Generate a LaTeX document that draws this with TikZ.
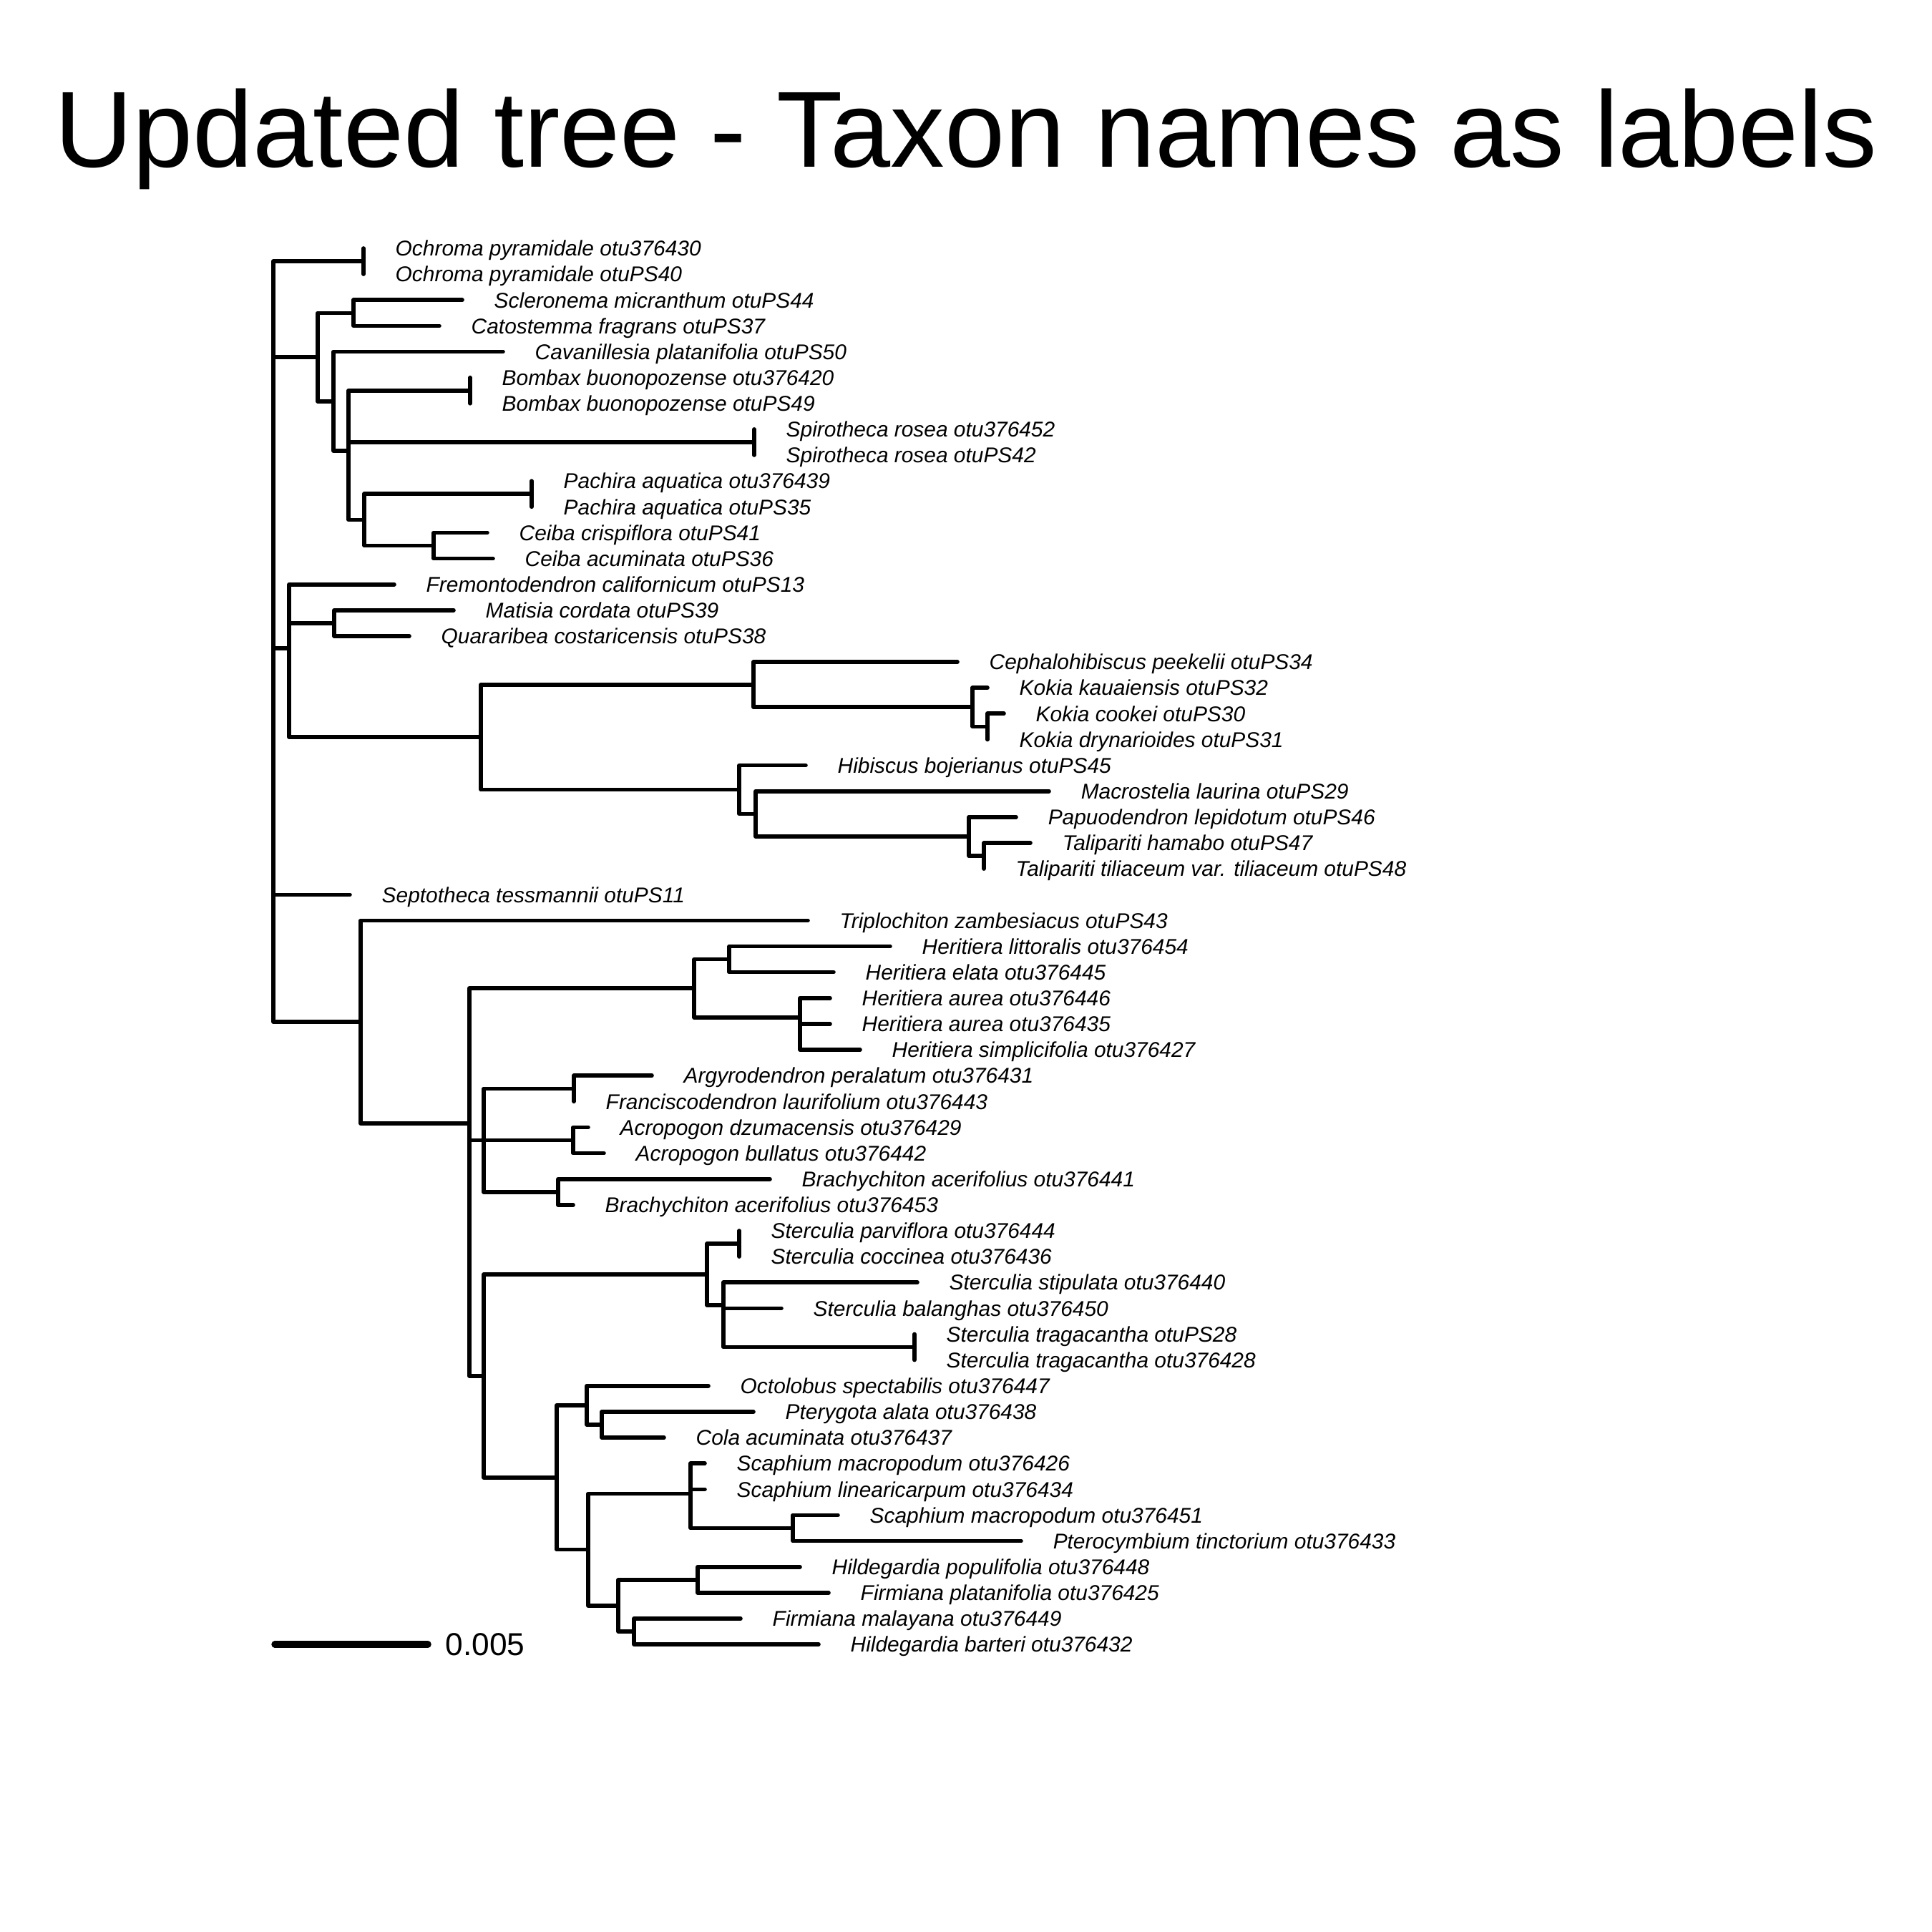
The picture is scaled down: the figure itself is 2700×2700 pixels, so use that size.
\documentclass[tikz,border=0pt]{standalone}
\usepackage{fontspec}
\setmainfont{Liberation Sans}
\usetikzlibrary{positioning}

\begin{document}
\begin{tikzpicture}[
    x=0.01cm, y=-0.01cm,
    branchline/.style={line width=1.6pt, line cap=round, line join=round},
    scalebar/.style={line width=2.7pt, line cap=round},
    taxon/.style={anchor=base west, inner sep=0pt, xshift=4.4mm, yshift=-1.07mm, font=\fontsize{8.5}{10}\selectfont\itshape},
    scalelabel/.style={inner sep=0pt, font=\fontsize{12.6}{14}\selectfont},
    heading/.style={anchor=base, inner sep=0pt, font=\fontsize{43}{50}\selectfont}
]
\useasboundingbox (0,0) rectangle (2700,2700);

% Title
\node[heading] (title) at (1350,234) {Updated tree - Taxon names as labels};

% Tips
\coordinate (t01) at (508,347.0);   \node[taxon] (l01) at (t01) {Ochroma pyramidale otu376430};
\coordinate (t02) at (508,383.1);   \node[taxon] (l02) at (t02) {Ochroma pyramidale otuPS40};
\coordinate (t03) at (646,419.3);   \node[taxon] (l03) at (t03) {Scleronema micranthum otuPS44};
\coordinate (t04) at (614,455.4);   \node[taxon] (l04) at (t04) {Catostemma fragrans otuPS37};
\coordinate (t05) at (703,491.5);   \node[taxon] (l05) at (t05) {Cavanillesia platanifolia otuPS50};
\coordinate (t06) at (657,527.7);   \node[taxon] (l06) at (t06) {Bombax buonopozense otu376420};
\coordinate (t07) at (657,563.8);   \node[taxon] (l07) at (t07) {Bombax buonopozense otuPS49};
\coordinate (t08) at (1054,599.9);  \node[taxon] (l08) at (t08) {Spirotheca rosea otu376452};
\coordinate (t09) at (1054,636.0);  \node[taxon] (l09) at (t09) {Spirotheca rosea otuPS42};
\coordinate (t10) at (743,672.2);   \node[taxon] (l10) at (t10) {Pachira aquatica otu376439};
\coordinate (t11) at (743,708.3);   \node[taxon] (l11) at (t11) {Pachira aquatica otuPS35};
\coordinate (t12) at (681,744.4);   \node[taxon] (l12) at (t12) {Ceiba crispiflora otuPS41};
\coordinate (t13) at (689,780.6);   \node[taxon] (l13) at (t13) {Ceiba acuminata otuPS36};
\coordinate (t14) at (551,816.7);   \node[taxon] (l14) at (t14) {Fremontodendron californicum otuPS13};
\coordinate (t15) at (634,852.8);   \node[taxon] (l15) at (t15) {Matisia cordata otuPS39};
\coordinate (t16) at (572,888.9);   \node[taxon] (l16) at (t16) {Quararibea costaricensis otuPS38};
\coordinate (t17) at (1338,925.1);  \node[taxon] (l17) at (t17) {Cephalohibiscus peekelii otuPS34};
\coordinate (t18) at (1380,961.2);  \node[taxon] (l18) at (t18) {Kokia kauaiensis otuPS32};
\coordinate (t19) at (1403,997.3);  \node[taxon] (l19) at (t19) {Kokia cookei otuPS30};
\coordinate (t20) at (1380,1033.5); \node[taxon] (l20) at (t20) {Kokia drynarioides otuPS31};
\coordinate (t21) at (1126,1069.6); \node[taxon] (l21) at (t21) {Hibiscus bojerianus otuPS45};
\coordinate (t22) at (1466,1105.7); \node[taxon] (l22) at (t22) {Macrostelia laurina otuPS29};
\coordinate (t23) at (1420,1141.9); \node[taxon] (l23) at (t23) {Papuodendron lepidotum otuPS46};
\coordinate (t24) at (1440,1178.0); \node[taxon] (l24) at (t24) {Talipariti hamabo otuPS47};
\coordinate (t25) at (1375,1214.1); \node[taxon] (l25) at (t25) {Talipariti tiliaceum var. tiliaceum otuPS48};
\coordinate (t26) at (489,1250.3);  \node[taxon] (l26) at (t26) {Septotheca tessmannii otuPS11};
\coordinate (t27) at (1129,1286.4); \node[taxon] (l27) at (t27) {Triplochiton zambesiacus otuPS43};
\coordinate (t28) at (1244,1322.5); \node[taxon] (l28) at (t28) {Heritiera littoralis otu376454};
\coordinate (t29) at (1165,1358.6); \node[taxon] (l29) at (t29) {Heritiera elata otu376445};
\coordinate (t30) at (1160,1394.8); \node[taxon] (l30) at (t30) {Heritiera aurea otu376446};
\coordinate (t31) at (1160,1430.9); \node[taxon] (l31) at (t31) {Heritiera aurea otu376435};
\coordinate (t32) at (1202,1467.0); \node[taxon] (l32) at (t32) {Heritiera simplicifolia otu376427};
\coordinate (t33) at (911,1503.2);  \node[taxon] (l33) at (t33) {Argyrodendron peralatum otu376431};
\coordinate (t34) at (802,1539.3);  \node[taxon] (l34) at (t34) {Franciscodendron laurifolium otu376443};
\coordinate (t35) at (822,1575.4);  \node[taxon] (l35) at (t35) {Acropogon dzumacensis otu376429};
\coordinate (t36) at (844,1611.6);  \node[taxon] (l36) at (t36) {Acropogon bullatus otu376442};
\coordinate (t37) at (1076,1647.7); \node[taxon] (l37) at (t37) {Brachychiton acerifolius otu376441};
\coordinate (t38) at (801,1683.8);  \node[taxon] (l38) at (t38) {Brachychiton acerifolius otu376453};
\coordinate (t39) at (1033,1720.0); \node[taxon] (l39) at (t39) {Sterculia parviflora otu376444};
\coordinate (t40) at (1033,1756.1); \node[taxon] (l40) at (t40) {Sterculia coccinea otu376436};
\coordinate (t41) at (1282,1792.2); \node[taxon] (l41) at (t41) {Sterculia stipulata otu376440};
\coordinate (t42) at (1092,1828.3); \node[taxon] (l42) at (t42) {Sterculia balanghas otu376450};
\coordinate (t43) at (1278,1864.5); \node[taxon] (l43) at (t43) {Sterculia tragacantha otuPS28};
\coordinate (t44) at (1278,1900.6); \node[taxon] (l44) at (t44) {Sterculia tragacantha otu376428};
\coordinate (t45) at (990,1936.7);  \node[taxon] (l45) at (t45) {Octolobus spectabilis otu376447};
\coordinate (t46) at (1053,1972.9); \node[taxon] (l46) at (t46) {Pterygota alata otu376438};
\coordinate (t47) at (928,2009.0);  \node[taxon] (l47) at (t47) {Cola acuminata otu376437};
\coordinate (t48) at (985,2045.1);  \node[taxon] (l48) at (t48) {Scaphium macropodum otu376426};
\coordinate (t49) at (985,2081.3);  \node[taxon] (l49) at (t49) {Scaphium linearicarpum otu376434};
\coordinate (t50) at (1171,2117.4); \node[taxon] (l50) at (t50) {Scaphium macropodum otu376451};
\coordinate (t51) at (1427,2153.5); \node[taxon] (l51) at (t51) {Pterocymbium tinctorium otu376433};
\coordinate (t52) at (1118,2189.7); \node[taxon] (l52) at (t52) {Hildegardia populifolia otu376448};
\coordinate (t53) at (1158,2225.8); \node[taxon] (l53) at (t53) {Firmiana platanifolia otu376425};
\coordinate (t54) at (1035,2261.9); \node[taxon] (l54) at (t54) {Firmiana malayana otu376449};
\coordinate (t55) at (1144,2298.0); \node[taxon] (l55) at (t55) {Hildegardia barteri otu376432};

% Internal nodes
\coordinate (root) at (382,889.7);
\coordinate (nOch) at (508,365.1);
\coordinate (n1) at (444,499.1);
\coordinate (nScl) at (494,437.4);
\coordinate (n2) at (466,560.8);
\coordinate (n3) at (487,630.1);
\coordinate (nBomb) at (657,545.8);
\coordinate (nSpiro) at (1054,618.0);
\coordinate (n4) at (509,726.4);
\coordinate (nPach) at (743,690.3);
\coordinate (nCeiba) at (606,762.5);
\coordinate (nMalv) at (404,905.9);
\coordinate (nMat) at (467,870.9);
\coordinate (nHib) at (672,1030.1);
\coordinate (nCeph) at (1053,956.7);
\coordinate (nKok) at (1359,988.3);
\coordinate (nKok2) at (1380,1015.4);
\coordinate (nTal) at (1033,1103.5);
\coordinate (nMac) at (1056,1137.4);
\coordinate (nPap) at (1354,1169.0);
\coordinate (nTal2) at (1375,1196.1);
\coordinate (nSter) at (504,1428.1);
\coordinate (nA) at (656,1569.7);
\coordinate (nHer) at (970,1381.2);
\coordinate (nHer1) at (1019,1340.6);
\coordinate (nHer2) at (1118,1421.9);
\coordinate (nHer3) at (1118,1449.0);
\coordinate (nB) at (656,1758.2);
\coordinate (nC) at (676,1593.5);
\coordinate (nArg) at (802,1521.3);
\coordinate (nAcr) at (801,1593.5);
\coordinate (nBra) at (780,1665.8);
\coordinate (nD) at (676,1922.9);
\coordinate (nSt) at (988,1781.0);
\coordinate (nSt1) at (1033,1738.1);
\coordinate (nSt2) at (1011,1823.8);
\coordinate (nSt3) at (1011,1855.4);
\coordinate (nSt4) at (1278,1882.6);
\coordinate (nOct) at (778,2064.7);
\coordinate (nOct1) at (820,1963.8);
\coordinate (nPter) at (841,1991.0);
\coordinate (nScap) at (822,2165.6);
\coordinate (nScap1) at (965,2087.3);
\coordinate (nScap2) at (1108,2135.5);
\coordinate (nHil) at (864,2243.9);
\coordinate (nHil1) at (975,2207.8);
\coordinate (nHil2) at (886,2280.0);

% Branches
\draw[branchline] (root) |- (nOch) (root) |- (n1) (root) |- (nMalv) (root) |- (t26) (root) |- (nSter);
\draw[branchline] (nOch) |- (t01) (nOch) |- (t02);
\draw[branchline] (n1) |- (nScl) (n1) |- (n2);
\draw[branchline] (nScl) |- (t03) (nScl) |- (t04);
\draw[branchline] (n2) |- (t05) (n2) |- (n3);
\draw[branchline] (n3) |- (nBomb) (n3) |- (nSpiro) (n3) |- (n4);
\draw[branchline] (nBomb) |- (t06) (nBomb) |- (t07);
\draw[branchline] (nSpiro) |- (t08) (nSpiro) |- (t09);
\draw[branchline] (n4) |- (nPach) (n4) |- (nCeiba);
\draw[branchline] (nPach) |- (t10) (nPach) |- (t11);
\draw[branchline] (nCeiba) |- (t12) (nCeiba) |- (t13);
\draw[branchline] (nMalv) |- (t14) (nMalv) |- (nMat) (nMalv) |- (nHib);
\draw[branchline] (nMat) |- (t15) (nMat) |- (t16);
\draw[branchline] (nHib) |- (nCeph) (nHib) |- (nTal);
\draw[branchline] (nCeph) |- (t17) (nCeph) |- (nKok);
\draw[branchline] (nKok) |- (t18) (nKok) |- (nKok2);
\draw[branchline] (nKok2) |- (t19) (nKok2) |- (t20);
\draw[branchline] (nTal) |- (t21) (nTal) |- (nMac);
\draw[branchline] (nMac) |- (t22) (nMac) |- (nPap);
\draw[branchline] (nPap) |- (t23) (nPap) |- (nTal2);
\draw[branchline] (nTal2) |- (t24) (nTal2) |- (t25);
\draw[branchline] (nSter) |- (t27) (nSter) |- (nA);
\draw[branchline] (nA) |- (nHer) (nA) |- (nB);
\draw[branchline] (nHer) |- (nHer1) (nHer) |- (nHer2);
\draw[branchline] (nHer1) |- (t28) (nHer1) |- (t29);
\draw[branchline] (nHer2) |- (t30) (nHer2) |- (nHer3);
\draw[branchline] (nHer3) |- (t31) (nHer3) |- (t32);
\draw[branchline] (nB) |- (nC) (nB) |- (nD);
\draw[branchline] (nC) |- (nArg) (nC) |- (nAcr) (nC) |- (nBra);
\draw[branchline] (nArg) |- (t33) (nArg) |- (t34);
\draw[branchline] (nAcr) |- (t35) (nAcr) |- (t36);
\draw[branchline] (nBra) |- (t37) (nBra) |- (t38);
\draw[branchline] (nD) |- (nSt) (nD) |- (nOct);
\draw[branchline] (nSt) |- (nSt1) (nSt) |- (nSt2);
\draw[branchline] (nSt1) |- (t39) (nSt1) |- (t40);
\draw[branchline] (nSt2) |- (t41) (nSt2) |- (nSt3);
\draw[branchline] (nSt3) |- (t42) (nSt3) |- (nSt4);
\draw[branchline] (nSt4) |- (t43) (nSt4) |- (t44);
\draw[branchline] (nOct) |- (nOct1) (nOct) |- (nScap);
\draw[branchline] (nOct1) |- (t45) (nOct1) |- (nPter);
\draw[branchline] (nPter) |- (t46) (nPter) |- (t47);
\draw[branchline] (nScap) |- (nScap1) (nScap) |- (nHil);
\draw[branchline] (nScap1) |- (t48) (nScap1) |- (t49) (nScap1) |- (nScap2);
\draw[branchline] (nScap2) |- (t50) (nScap2) |- (t51);
\draw[branchline] (nHil) |- (nHil1) (nHil) |- (nHil2);
\draw[branchline] (nHil1) |- (t52) (nHil1) |- (t53);
\draw[branchline] (nHil2) |- (t54) (nHil2) |- (t55);

% Scale bar
\coordinate (sb0) at (384,2298);
\coordinate (sb1) at (598,2298);
\draw[scalebar] (sb0) -- (sb1);
\node[scalelabel, right=2.4mm of sb1] (sbtxt) {0.005};

\end{tikzpicture}
\end{document}
